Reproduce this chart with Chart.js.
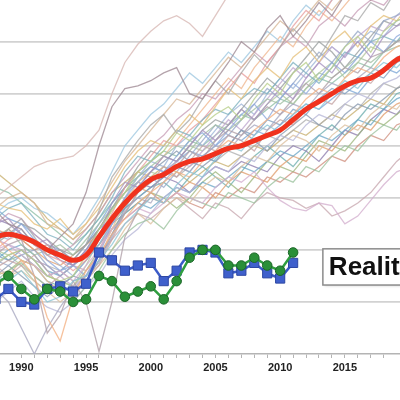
<!DOCTYPE html>
<html>
<head>
<meta charset="utf-8">
<script src="https://cdn.jsdelivr.net/npm/chart.js@4.4.0/dist/chart.umd.min.js"></script>
<style>
  html, body { margin: 0; padding: 0; background: #fff; }
  #caixa { width: 400px; height: 400px; overflow: hidden; }
</style>
</head>
<body>
<div id="caixa"><canvas id="grafico" width="400" height="400"></canvas></div>
<script>
// anos 1988..2020
const anos = [1988, 1989, 1990, 1991, 1992, 1993, 1994, 1995, 1996, 1997, 1998,
  1999, 2000, 2001, 2002, 2003, 2004, 2005, 2006, 2007, 2008, 2009, 2010,
  2011, 2012, 2013, 2014, 2015, 2016, 2017, 2018, 2019, 2020];

const rotulosAnos = [1990, 1995, 2000, 2005, 2010, 2015, 2020];

// media dos modelos (linha vermelha grossa)
const mediaModelos = [0.45, 0.46, 0.45, 0.43, 0.40, 0.38, 0.36, 0.38, 0.45, 0.52, 0.58,
  0.63, 0.67, 0.69, 0.72, 0.74, 0.75, 0.77, 0.79, 0.80, 0.82, 0.84, 0.86,
  0.90, 0.94, 0.97, 1.00, 1.03, 1.05, 1.06, 1.09, 1.13, 1.15];

// baloes (quadrados azuis), 1988..2011
const baloes = [0.21, 0.25, 0.20, 0.19, 0.25, 0.26, 0.24, 0.27, 0.39, 0.36, 0.32,
  0.34, 0.35, 0.28, 0.32, 0.39, 0.40, 0.39, 0.31, 0.32, 0.35, 0.31, 0.29, 0.35];

// satelites (circulos verdes), 1988..2011
const satelites = [0.27, 0.30, 0.25, 0.21, 0.25, 0.24, 0.20, 0.21, 0.30, 0.28, 0.22,
  0.24, 0.26, 0.21, 0.28, 0.37, 0.40, 0.40, 0.34, 0.34, 0.37, 0.34, 0.32, 0.39];

// rodadas individuais dos modelos (linhas finas)
const rodadas = [
  [.60,.64,.68,.72,.74,.75,.76,.80,.86,1.00,1.12,1.19,1.24,1.28,1.30,1.27,1.22,1.30,1.38,1.44,1.40,1.47,1.50,1.46,1.52,1.56,1.50,1.55,1.60,1.58,1.62,1.65,1.66],
  [.55,.50,.48,.42,.40,.45,.50,.62,.80,.95,1.02,1.03,1.05,1.08,1.10,1.00,.98,1.05,1.12,1.20,1.16,1.25,1.30,1.22,1.28,1.35,1.30,1.38,1.42,1.36,1.40,1.45,1.48],
  [.42,.48,.52,.45,.38,.40,.36,.42,.55,.68,.75,.82,.88,.92,.85,.90,.98,1.05,1.00,1.08,1.15,1.10,1.18,1.25,1.20,1.14,1.22,1.30,1.28,1.35,1.32,1.40,1.42],
  [.35,.38,.40,.36,.30,.28,.30,.38,.48,.55,.62,.70,.74,.78,.85,.82,.88,.92,.95,.90,.98,1.04,1.00,1.08,1.12,1.05,1.10,1.18,1.22,1.16,1.24,1.28,1.30],
  [.50,.52,.46,.42,.44,.38,.34,.40,.45,.58,.66,.64,.70,.76,.74,.80,.86,.82,.88,.94,.90,.96,1.02,.98,1.06,1.12,1.08,1.15,1.20,1.14,1.22,1.26,1.28],
  [.30,.28,.32,.26,.20,.22,.28,.30,.36,.42,.50,.55,.60,.58,.65,.70,.68,.75,.80,.78,.84,.88,.85,.92,.96,.94,1.00,1.05,1.02,1.08,1.12,1.10,1.15],
  [.45,.40,.36,.30,.14,.05,.22,.32,.38,.46,.52,.58,.62,.66,.70,.68,.74,.78,.82,.80,.86,.90,.94,.92,.98,1.02,1.00,1.06,1.10,1.08,1.14,1.18,1.20],
  [.38,.42,.44,.30,.08,.15,.28,.20,.01,.20,.45,.55,.62,.70,.72,.78,.75,.82,.86,.84,.90,.95,.92,.98,1.04,1.00,1.06,1.10,1.08,1.14,1.16,1.20,1.22],
  [.25,.20,.10,.00,.10,.18,.25,.30,.35,.45,.55,.60,.58,.66,.72,.70,.76,.80,.78,.84,.88,.86,.92,.96,.94,1.00,1.04,1.02,1.06,1.10,1.08,1.14,1.16],
  [.40,.42,.38,.34,.30,.32,.28,.34,.40,.48,.52,.56,.54,.58,.62,.60,.58,.64,.68,.66,.70,.64,.59,.56,.55,.58,.57,.50,.53,.59,.65,.70,.72],
  [.28,.32,.35,.30,.26,.24,.20,.26,.32,.40,.46,.50,.52,.48,.55,.60,.58,.56,.62,.60,.58,.64,.68,.66,.72,.70,.76,.80,.78,.84,.88,.86,.92],
  [.58,.56,.55,.50,.48,.52,.46,.50,.56,.64,.72,.78,.82,.80,.86,.92,.88,.95,1.02,.98,1.05,1.10,1.06,1.14,1.18,1.12,1.20,1.24,1.18,1.26,1.30,1.28,1.34],
  [.48,.45,.50,.44,.36,.32,.34,.30,.38,.50,.60,.66,.72,.70,.76,.82,.85,.80,.86,.92,.96,.90,.98,1.04,1.00,1.06,1.12,1.08,1.14,1.20,1.16,1.22,1.25],
  [.33,.36,.34,.38,.32,.26,.24,.28,.34,.44,.54,.62,.66,.72,.68,.74,.80,.78,.84,.82,.78,.86,.90,.88,.94,.98,.96,1.02,1.06,1.04,1.10,1.12,1.16],
  [.52,.56,.58,.52,.46,.44,.40,.46,.52,.60,.70,.76,.74,.80,.86,.84,.90,.94,.92,.98,1.02,1.00,1.06,1.12,1.08,1.04,1.10,1.16,1.14,1.20,1.22,1.20,1.26],
  [.20,.24,.28,.22,.18,.16,.20,.26,.30,.38,.44,.48,.54,.60,.64,.62,.68,.72,.70,.76,.74,.80,.84,.82,.88,.92,.90,.96,1.00,.98,1.04,1.06,1.10],
  [.40,.44,.46,.42,.38,.36,.32,.36,.44,.54,.64,.70,.76,.82,.80,.86,.90,.96,1.02,1.08,1.04,1.12,1.18,1.26,1.32,1.28,1.36,1.42,1.38,1.44,1.48,1.50,1.52],
  [.45,.48,.42,.38,.40,.42,.38,.44,.50,.56,.62,.68,.72,.76,.80,.78,.84,.88,.86,.90,.94,.98,.96,1.00,1.04,1.08,1.06,1.10,1.14,1.12,1.16,1.20,1.22],
  [.36,.34,.38,.40,.34,.30,.34,.40,.46,.52,.58,.64,.68,.64,.70,.76,.82,.88,.84,.90,.96,1.02,.98,1.04,1.10,1.16,1.12,1.18,1.24,1.20,1.28,1.30,1.34],
  [.56,.60,.62,.58,.50,.48,.44,.50,.58,.66,.74,.80,.86,.92,.98,.96,1.02,1.08,1.14,1.10,1.16,1.22,1.28,1.24,1.30,1.36,1.32,1.38,1.44,1.40,1.46,1.50,1.52],
  [.30,.34,.30,.26,.22,.26,.30,.28,.36,.46,.56,.64,.70,.74,.78,.74,.72,.76,.80,.86,.82,.78,.84,.88,.92,.88,.86,.92,.96,.94,.98,1.02,1.04],
  [.44,.42,.40,.36,.34,.30,.26,.30,.40,.50,.58,.62,.66,.70,.74,.72,.78,.84,.90,.86,.92,.98,1.04,1.10,1.06,1.12,1.18,1.14,1.22,1.26,1.24,1.30,1.32],
  [.54,.58,.60,.56,.54,.50,.46,.52,.60,.70,.80,.86,.92,.96,1.02,1.08,1.04,1.10,1.16,1.12,1.18,1.24,1.20,1.28,1.34,1.30,1.36,1.40,1.38,1.44,1.48,1.46,1.50],
  [.26,.30,.32,.28,.24,.20,.24,.30,.34,.40,.48,.54,.50,.56,.60,.58,.64,.68,.66,.72,.76,.74,.80,.84,.82,.78,.84,.88,.86,.92,.96,.94,1.00],
  [.42,.46,.50,.48,.44,.40,.38,.42,.48,.56,.64,.72,.78,.76,.74,.80,.86,.90,.88,.94,1.00,1.06,1.02,1.08,1.14,1.20,1.16,1.10,1.16,1.22,1.28,1.26,1.30],
  [.34,.30,.34,.30,.26,.30,.34,.32,.38,.44,.50,.54,.52,.56,.60,.56,.52,.58,.56,.52,.58,.62,.60,.59,.56,.58,.53,.55,.58,.62,.68,.74,.78],
  [.50,.54,.52,.46,.42,.38,.42,.48,.54,.62,.68,.74,.80,.84,.90,.94,1.00,.98,1.04,1.10,1.16,1.12,1.18,1.22,1.18,1.26,1.30,1.26,1.32,1.36,1.34,1.40,1.42],
  [.38,.36,.40,.36,.30,.32,.36,.42,.48,.52,.56,.60,.64,.68,.72,.70,.76,.74,.80,.86,.84,.90,.88,.94,.92,.98,1.02,1.00,1.04,1.08,1.06,1.12,1.14],
  [.32,.30,.36,.34,.28,.24,.22,.28,.36,.48,.58,.66,.70,.76,.82,.88,.94,1.00,1.06,1.02,1.10,1.16,1.22,1.18,1.26,1.32,1.28,1.34,1.40,1.36,1.42,1.46,1.48],
  [.46,.44,.48,.42,.38,.34,.30,.36,.42,.50,.60,.68,.74,.72,.80,.84,.80,.86,.92,.96,.92,1.00,1.06,1.02,1.08,1.14,1.18,1.14,1.20,1.24,1.22,1.28,1.30],
  [.40,.38,.34,.28,.24,.28,.26,.34,.44,.56,.62,.66,.70,.68,.74,.80,.78,.82,.88,.94,.90,.96,1.00,.96,1.02,1.08,1.12,1.06,1.12,1.18,1.16,1.20,1.24],
  [.36,.40,.42,.38,.32,.30,.34,.38,.44,.50,.54,.58,.56,.60,.64,.62,.66,.64,.68,.72,.70,.74,.78,.76,.80,.84,.82,.86,.90,.88,.94,.98,1.00],
  [.48,.46,.44,.40,.36,.34,.38,.42,.46,.52,.60,.64,.62,.58,.62,.66,.64,.60,.66,.70,.68,.66,.72,.76,.74,.80,.78,.84,.88,.86,.92,.96,.98],
  [.30,.32,.36,.34,.30,.28,.26,.32,.40,.48,.54,.58,.62,.60,.56,.60,.66,.70,.66,.62,.68,.74,.72,.70,.76,.82,.80,.78,.84,.90,.88,.92,.96],
  [.52,.50,.46,.44,.40,.36,.34,.40,.48,.56,.62,.66,.64,.68,.66,.62,.68,.72,.70,.74,.72,.70,.76,.80,.78,.74,.80,.86,.84,.90,.94,.92,.98],
  [.40,.36,.38,.34,.28,.26,.30,.36,.42,.50,.56,.60,.64,.66,.62,.68,.72,.68,.64,.70,.76,.80,.76,.72,.78,.84,.88,.84,.90,.96,.94,1.00,1.02],
  [.44,.48,.44,.40,.42,.38,.34,.38,.42,.48,.52,.56,.60,.58,.62,.58,.56,.62,.60,.64,.62,.68,.66,.70,.68,.72,.76,.74,.80,.84,.82,.88,.90],
  [.34,.38,.40,.36,.34,.32,.28,.30,.38,.46,.54,.62,.66,.70,.68,.72,.76,.74,.78,.76,.80,.84,.82,.86,.90,.88,.92,.96,.94,1.00,1.04,1.02,1.06],
  [.56,.52,.50,.46,.42,.40,.36,.42,.50,.58,.64,.68,.72,.70,.74,.78,.76,.80,.84,.82,.86,.84,.88,.92,.96,.94,.98,1.02,1.00,1.06,1.10,1.08,1.12],
  [.70,.66,.62,.58,.52,.48,.44,.48,.54,.62,.66,.70,.68,.72,.70,.66,.70,.74,.72,.76,.80,.78,.82,.86,.84,.88,.92,.90,.94,.98,.96,1.02,1.04],
  [.64,.62,.58,.54,.50,.46,.42,.46,.52,.58,.64,.70,.74,.78,.76,.82,.80,.84,.88,.92,.90,.94,.98,.96,1.02,1.06,1.04,1.08,1.12,1.10,1.16,1.18,1.20]
];

const coresRodadas = ['#d7b7b4', '#a08a94', '#a9a9a9', '#b7cf8a', '#a894c2', '#8cc6d6',
  '#f4b183', '#b0a0a8', '#a8a8c0', '#d4b0ce', '#9dc3a0', '#e6c07a', '#8faadc', '#c5a5a5',
  '#7fb2c0', '#b8b8d8', '#e8a0a0', '#a3c1a3', '#98a8c8', '#d8b898', '#8a9ab0', '#c0a8d0',
  '#a0c8e0', '#dcc0a0', '#9aa0a0', '#c8a8b0', '#c8a0b8', '#80a0c0', '#f0b890', '#9fb6d8',
  '#b4c8a0', '#6fa8c8', '#e0a070', '#a0b880', '#9080b0', '#70b0b0', '#d09080', '#b0b0b0',
  '#80a8d8', '#c8b070', '#90c0a8'];

function pontos(valores) {
    return valores.map((v, i) => ({ x: anos[i], y: v }));
}

const conjuntos = [];

conjuntos.push({
    label: 'Satélites',
    data: pontos(satelites),
    borderColor: '#2f9e3f',
    borderWidth: 2.5,
    pointStyle: 'circle',
    pointRadius: 4.8,
    pointBackgroundColor: '#2a8f38',
    pointBorderColor: '#1c6628',
    pointBorderWidth: 1,
    tension: 0,
    order: 1
});

conjuntos.push({
    label: 'Balões',
    data: pontos(baloes),
    borderColor: '#3b5bc8',
    borderWidth: 2.5,
    pointStyle: 'rect',
    pointRadius: 6.5,
    pointBackgroundColor: '#3f60cc',
    pointBorderColor: '#2d47a3',
    pointBorderWidth: 1,
    tension: 0,
    order: 2
});

conjuntos.push({
    label: 'Média dos modelos',
    data: pontos(mediaModelos),
    borderColor: '#f0321e',
    borderWidth: 5,
    pointRadius: 0,
    tension: 0.4,
    order: 3
});

rodadas.forEach((serie, i) => {
    conjuntos.push({
        label: 'Modelo ' + (i + 1),
        data: pontos(serie),
        borderColor: coresRodadas[i % coresRodadas.length] + 'c8',
        borderWidth: 1.3,
        pointRadius: 0,
        tension: 0,
        order: 10 + i
    });
});

// caixa "Reality" ancorada nas escalas
const caixaAno = 2013.3;
const caixaTopo = 0.404;
const caixaBase = 0.265;

const caixaRealidade = {
    id: 'caixaRealidade',
    afterDraw(chart) {
        const c = chart.ctx;
        const x0 = chart.scales.x.getPixelForValue(caixaAno);
        const y0 = chart.scales.y.getPixelForValue(caixaTopo);
        const y1 = chart.scales.y.getPixelForValue(caixaBase);
        c.save();
        c.shadowColor = 'rgba(0,0,0,0.25)';
        c.shadowBlur = 3;
        c.shadowOffsetX = 1;
        c.shadowOffsetY = 1;
        c.fillStyle = '#fff';
        c.fillRect(x0, y0, 110, y1 - y0);
        c.shadowColor = 'transparent';
        c.strokeStyle = '#8c8c8c';
        c.lineWidth = 1.5;
        c.strokeRect(x0, y0, 110, y1 - y0);
        c.fillStyle = '#111';
        c.font = 'bold 26px "Liberation Sans", Arial, sans-serif';
        c.textBaseline = 'middle';
        c.fillText('Reality', x0 + 6, (y0 + y1) / 2 + 1);
        c.restore();
    }
};

const ctx = document.getElementById('grafico').getContext('2d');
new Chart(ctx, {
    type: 'line',
    data: { datasets: conjuntos },
    options: {
        responsive: false,
        animation: false,
        layout: { padding: 0, autoPadding: false },
        plugins: {
            legend: { display: false },
            tooltip: { enabled: false }
        },
        scales: {
            x: {
                type: 'linear',
                min: 1988.35,
                max: 2019.26,
                ticks: {
                    stepSize: 1,
                    autoSkip: false,
                    maxRotation: 0,
                    padding: 3,
                    color: '#222',
                    font: { family: 'Liberation Sans', size: 11, weight: 'bold' },
                    callback: v => rotulosAnos.includes(v) ? String(v) : ''
                },
                grid: {
                    drawOnChartArea: false,
                    tickLength: 4,
                    color: c => (c.tick && Number.isInteger(c.tick.value)) ? '#b4b4b4' : 'rgba(0,0,0,0)'
                },
                border: { color: '#b4b4b4', width: 1.5 },
                afterFit: s => {
                    s.height = 46;
                    s.paddingLeft = 0;
                    s.paddingRight = 0;
                }
            },
            y: {
                min: 0,
                max: 1.36,
                ticks: { display: false, stepSize: 0.2 },
                border: { display: false },
                grid: {
                    drawTicks: false,
                    lineWidth: 1.8,
                    color: c => {
                        const v = c.tick ? c.tick.value : 0;
                        const passo = Math.abs(v * 5 - Math.round(v * 5)) < 0.001;
                        return (v > 0.01 && passo) ? '#d2d2d2' : 'rgba(0,0,0,0)';
                    }
                },
                afterFit: s => { s.width = 0; }
            }
        }
    },
    plugins: [caixaRealidade]
});
</script>
</body>
</html>
